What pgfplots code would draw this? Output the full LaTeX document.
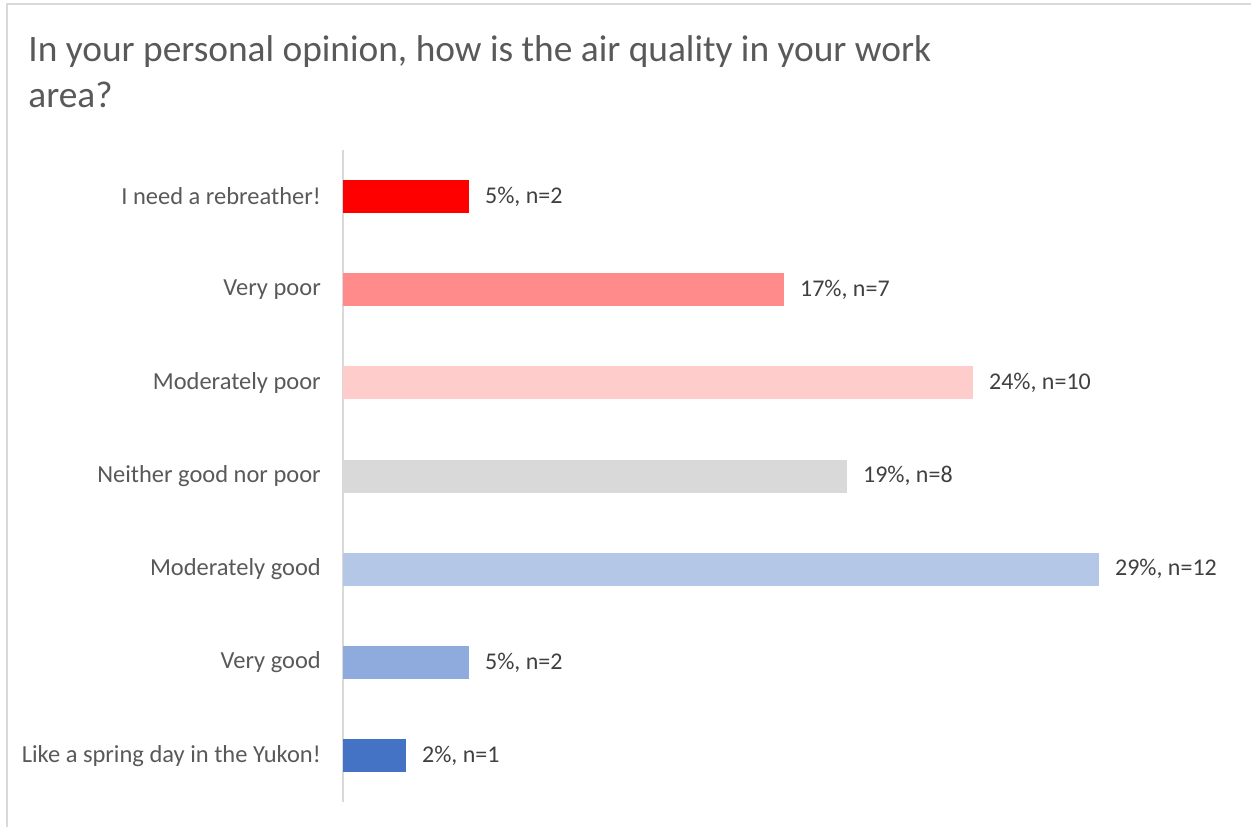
\documentclass[border=0pt]{standalone}
\usepackage{fontspec}
\setmainfont{Carlito}
\usepackage{pgfplots}
\pgfplotsset{compat=1.18}
\definecolor{cRed}{HTML}{FF0000}
\definecolor{cLRed}{HTML}{FF8B8B}
\definecolor{cPink}{HTML}{FFCCCC}
\definecolor{cGray}{HTML}{D9D9D9}
\definecolor{cLBlue}{HTML}{B4C7E7}
\definecolor{cMBlue}{HTML}{8FAADC}
\definecolor{cBlue}{HTML}{4472C4}
\definecolor{tickgray}{HTML}{595959}
\definecolor{labgray}{HTML}{404040}
\definecolor{frame}{HTML}{D9D9D9}
\begin{document}
\begin{tikzpicture}
\path (0,0) rectangle (626pt,-414pt);
\draw[frame, line width=1pt] (3.5pt,-414pt) -- (3.5pt,-2pt) -- (626pt,-2pt);
\node[anchor=base west, inner sep=0pt, text=tickgray, font=\fontsize{18.7}{22}\selectfont] at (14pt,-31pt) {In your personal opinion, how is the air quality in your work};
\node[anchor=base west, inner sep=0pt, text=tickgray, font=\fontsize{18.7}{22}\selectfont] at (14pt,-54pt) {area?};
\begin{axis}[
  at={(171.5pt,-401.5pt)}, anchor=south west,
  scale only axis, width=448.5pt, height=326.5pt,
  xbar, bar width=16.5pt, bar shift=0pt,
  xmin=0, xmax=34.7, ymin=-0.5, ymax=6.5,
  axis x line=none, axis y line*=left,
  y axis line style={draw=frame, line width=1pt, -},
  xtick=\empty,
  ytick={0,1,2,3,4,5,6},
  yticklabels={Like a spring day in the Yukon!, Very good, Moderately good, Neither good nor poor, Moderately poor, Very poor, I need a rebreather!},
  ytick style={draw=none},
  yticklabel style={font=\fontsize{12.25}{14}\selectfont, text=tickgray, inner sep=0pt, xshift=-6.5pt},
  point meta=explicit symbolic,
  nodes near coords={\pgfplotspointmeta},
  nodes near coords style={font=\fontsize{12}{14}\selectfont, text=labgray, anchor=west, inner sep=0pt, xshift=8pt},
  clip=false,
]
\addplot[fill=cRed, draw=none] coordinates {(4.878,6) [5\%, n=2]};
\addplot[fill=cLRed, draw=none] coordinates {(17.073,5) [17\%, n=7]};
\addplot[fill=cPink, draw=none] coordinates {(24.390,4) [24\%, n=10]};
\addplot[fill=cGray, draw=none] coordinates {(19.512,3) [19\%, n=8]};
\addplot[fill=cLBlue, draw=none] coordinates {(29.268,2) [29\%, n=12]};
\addplot[fill=cMBlue, draw=none] coordinates {(4.878,1) [5\%, n=2]};
\addplot[fill=cBlue, draw=none] coordinates {(2.439,0) [2\%, n=1]};
\end{axis}
\end{tikzpicture}
\end{document}
